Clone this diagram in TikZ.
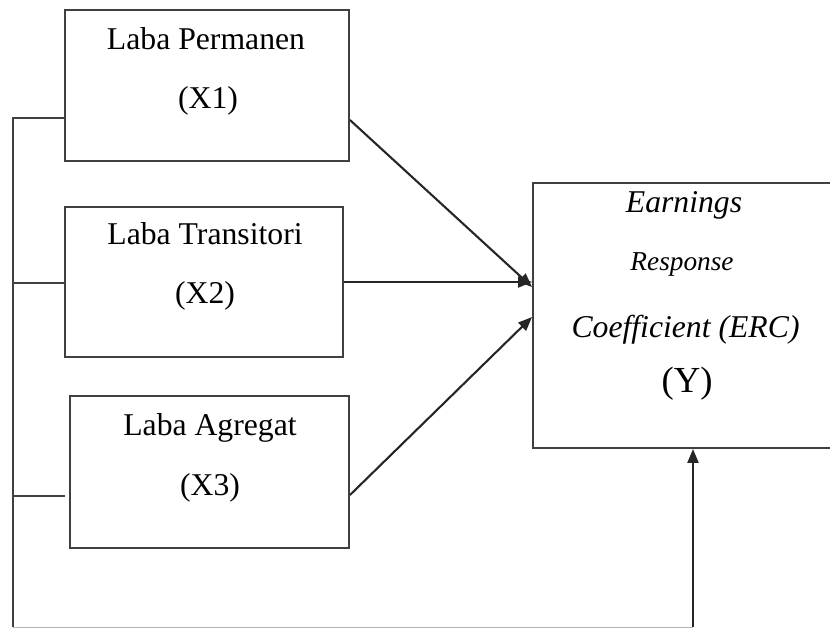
\documentclass[tikz,border=0pt]{standalone}
\usepackage{fontspec}
\setmainfont{Liberation Serif}
\usetikzlibrary{arrows.meta}
\begin{document}
\begin{tikzpicture}[x=1pt,y=-1pt,
  boxst/.style={draw=black!75,line width=1.9pt,rectangle,inner sep=0pt},
  lbl/.style={anchor=base,inner sep=0pt,font=\fontsize{31.7}{38}\selectfont},
  lblit/.style={anchor=base,inner sep=0pt,font=\fontsize{31.7}{38}\selectfont\itshape},
  conn/.style={draw=black!75,line width=1.9pt},
  arr/.style={draw=black!85,line width=2.1pt,-{Triangle[length=14pt,width=11pt]}}]
\useasboundingbox (0,0) rectangle (830,627);
\clip (0,0) rectangle (830,627);
% boxes
\node[boxst,minimum width=284pt,minimum height=151pt] (x1) at (207,85.5) {};
\node[boxst,minimum width=278pt,minimum height=150pt] (x2) at (204,282) {};
\node[boxst,minimum width=279pt,minimum height=152pt] (x3) at (209.5,472) {};
\node[boxst,minimum width=302pt,minimum height=265pt] (y) at (684,315.5) {};
% texts
\node[lbl] (t1a) at (206,49) {Laba Permanen};
\node[lbl] (t1b) at (208,108) {(X1)};
\node[lbl] (t2a) at (205,244) {Laba Transitori};
\node[lbl] (t2b) at (205,303) {(X2)};
\node[lbl] (t3a) at (210,435) {Laba Agregat};
\node[lbl] (t3b) at (210,495) {(X3)};
\node[lblit] (ya) at (684,212) {Earnings};
\node[anchor=base,inner sep=0pt,font=\fontsize{27.3}{33}\selectfont\itshape] (yb) at (682,270.5) {Response};
\node[lblit] (yc) at (685.5,337) {Coefficient (ERC)};
\node[anchor=base,inner sep=0pt,font=\fontsize{36.7}{44}\selectfont] (yd) at (687,392) {(Y)};
% helper coordinates
\coordinate (h1) at (13,118);
\coordinate (h2) at (13,283);
\coordinate (h3) at (13,496);
\coordinate (h3e) at (65,496);
\coordinate (hb) at (13,627);
\coordinate (hbr) at (693,627);
\coordinate (s1) at (0,120);
\coordinate (s2) at (0,282);
\coordinate (s3) at (0,495);
\coordinate (e1) at (0,287);
\coordinate (e2) at (0,282);
\coordinate (e3) at (0,317);
% left bracket lines
\draw[conn] (x1.west |- h1) -- (h1) -- (hb);
\draw[conn] (h2) -- (x2.west |- h2);
\draw[conn] (h3) -- (h3e);
\draw[draw=black!30,line width=1pt] (hb) -- (hbr);
% arrows
\draw[arr] (x1.east |- s1) -- (y.west |- e1);
\draw[arr] (x2.east |- s2) -- (y.west |- e2);
\draw[arr] (x3.east |- s3) -- (y.west |- e3);
\draw[arr] (hbr) -- (hbr |- y.south);
\end{tikzpicture}
\end{document}
